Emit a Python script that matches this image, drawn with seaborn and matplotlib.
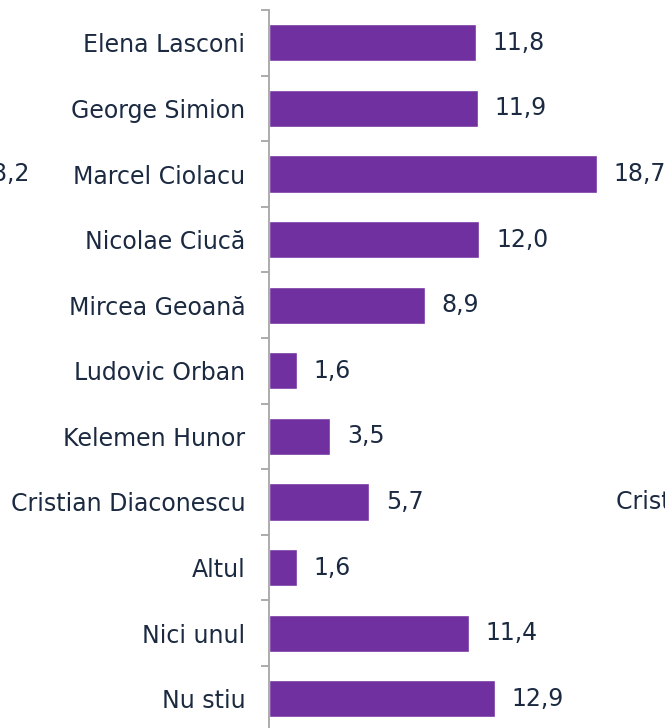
import matplotlib.pyplot as plt
import seaborn as sns
import pandas as pd
import numpy as np

candidates = ['Elena Lasconi', 'George Simion', 'Marcel Ciolacu', 'Nicolae Ciucă',
              'Mircea Geoană', 'Ludovic Orban', 'Kelemen Hunor', 'Cristian Diaconescu',
              'Altul', 'Nici unul', 'Nu stiu']
values = [11.8, 11.9, 18.7, 12.0, 8.9, 1.6, 3.5, 5.7, 1.6, 11.4, 12.9]

purple = '#7030A0'
text_color = '#1b2a41'

df = pd.DataFrame({'candidate': candidates, 'value': values})

sns.set_style('white')
plt.rcParams['font.family'] = ['DejaVu Sans']

W, H = 665, 728
fig = plt.figure(figsize=(W / 100, H / 100), dpi=100)
step = 65.6
top_px = 10
n = len(candidates)
ax_h = n * step
ax = fig.add_axes([269 / W, (H - top_px - ax_h) / H, (W - 269) / W, ax_h / H])

sns.barplot(data=df, x='value', y='candidate', color=purple, width=0.565,
            saturation=1, ax=ax, orient='h')

px_per_unit = 17.54
ax.set_xlim(0, (W - 269) / px_per_unit)
ax.set_ylim(n - 0.5, -0.5)

fs = 17
labels = [f'{v:.1f}'.replace('.', ',') for v in values]
ax.bar_label(ax.containers[0], labels=labels, padding=12, fontsize=fs, color=text_color)

for s in ['top', 'right', 'bottom']:
    ax.spines[s].set_visible(False)
ax.spines['left'].set_color('#a6a6a6')
ax.spines['left'].set_linewidth(1.3)

ax.set_xticks([])
ax.set_xlabel('')
ax.set_ylabel('')
ax.set_yticks(range(n))
ax.set_yticklabels(candidates)
ax.set_yticks(np.arange(-0.5, n, 1), minor=True)
ax.tick_params(axis='y', which='major', length=0, pad=17, labelsize=fs, labelcolor=text_color)
ax.tick_params(axis='y', which='minor', length=5.5, width=1.3, color='#a6a6a6', left=True)

# fragments of neighbouring charts at the image edges
fig.text(30 / W, 1 - 174 / H, '18,2', ha='right', va='center', fontsize=fs, color=text_color)
fig.text(616 / W, 1 - 502 / H, 'Cristian Diaconescu', ha='left', va='center', fontsize=fs, color=text_color)

fig.savefig('out.png', dpi=100)
